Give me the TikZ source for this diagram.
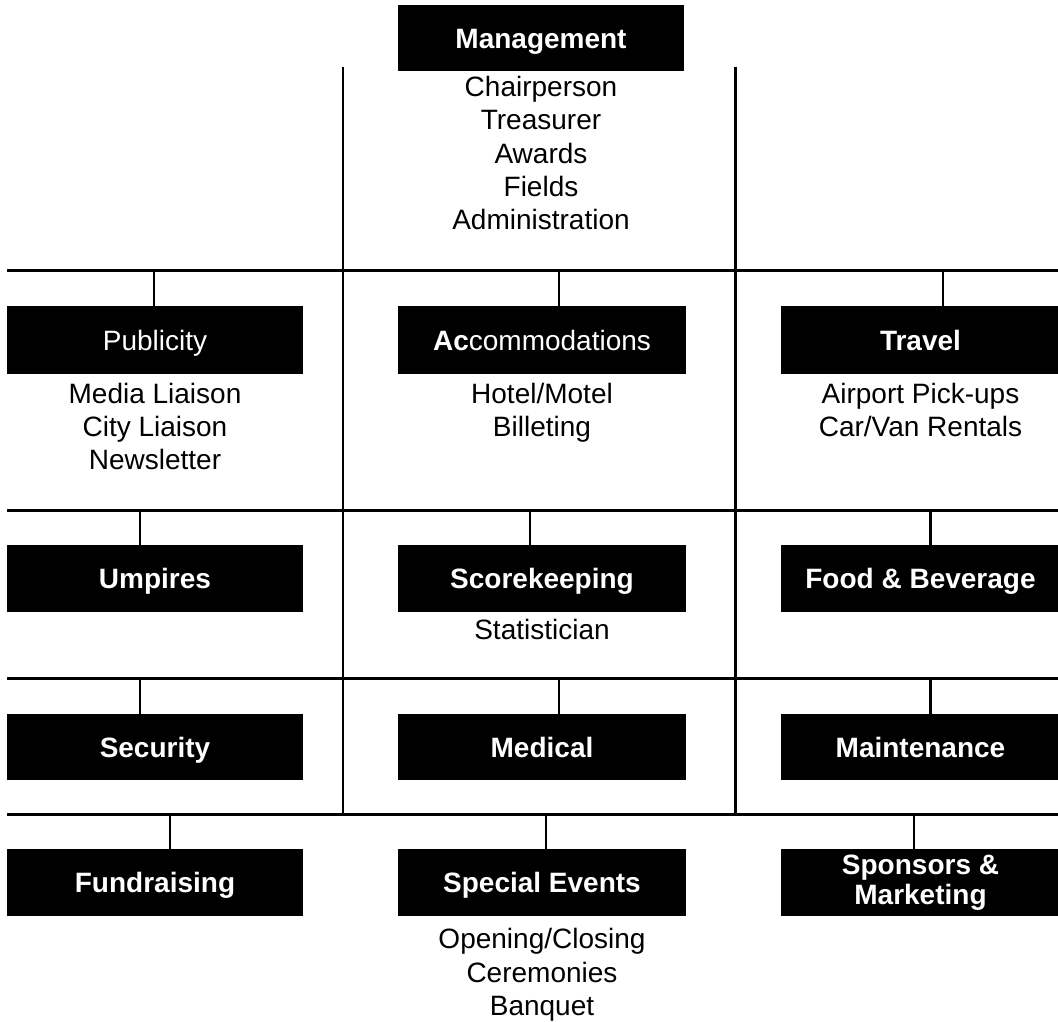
\documentclass[tikz,border=0pt]{standalone}
\usepackage{fontspec}
\setmainfont{Liberation Sans}
\usetikzlibrary{positioning}
\newcommand{\orgsize}{\fontsize{28}{33.3}\selectfont}
\tikzset{
  deptbox/.style={fill=black, text=white, inner sep=0pt, font=\orgsize\bfseries},
  dept/.style={deptbox, text height=20pt, text depth=0pt},
  duties/.style={align=center, inner sep=0pt, font=\orgsize},
  bus/.style={line width=3pt},
  divider/.style={line width=2.3pt},
  stub/.style={line width=2.3pt},
}
\begin{document}
\begin{tikzpicture}[x=1pt,y=-1pt]
\useasboundingbox (0,0) rectangle (1058,1021);
%
% cajas: centro, ancho, alto
\node[dept, minimum width=286pt, minimum height=66pt] (mgmt) at (541,38) {Management};
%
\node[dept, minimum width=296pt, minimum height=68pt, font=\orgsize] (pub) at (155,340) {Publicity};
\node[dept, minimum width=288pt, minimum height=68pt, font=\orgsize] (acc) at (542,340) {\textbf{Ac}commodations};
\node[dept, minimum width=279pt, minimum height=68pt] (trav) at (920.5,340) {Travel};
%
\node[dept, minimum width=296pt, minimum height=67pt] (ump) at (155,578.5) {Umpires};
\node[dept, minimum width=288pt, minimum height=67pt] (score) at (542,578.5) {Scorekeeping};
\node[dept, minimum width=279pt, minimum height=67pt] (food) at (920.5,578.5) {Food \& Beverage};
%
\node[dept, minimum width=296pt, minimum height=66pt] (sec) at (155,747) {Security};
\node[dept, minimum width=288pt, minimum height=66pt] (med) at (542,747) {Medical};
\node[dept, minimum width=279pt, minimum height=66pt] (maint) at (920.5,747) {Maintenance};
%
\node[dept, minimum width=296pt, minimum height=67pt] (fund) at (155,882.5) {Fundraising};
\node[dept, minimum width=288pt, minimum height=67pt] (spec) at (542,882.5) {Special Events};
\node[deptbox, minimum width=279pt, minimum height=67pt, align=center,
      font=\fontsize{28}{30}\selectfont\bfseries] (spons) at (920.5,882.5) {Sponsors \&\\Marketing};
%
% listas debajo de las cajas
\node[duties, below=5pt of mgmt] (mgmtsub) {Chairperson\\Treasurer\\Awards\\Fields\\Administration};
\node[duties, below=8.5pt of pub] (pubsub) {Media Liaison\\City Liaison\\Newsletter};
\node[duties, below=8.5pt of acc] (accsub) {Hotel/Motel\\Billeting};
\node[duties, below=9pt of trav] (travsub) {Airport Pick-ups\\Car/Van Rentals};
\node[duties, below=7pt of score] (scoresub) {Statistician};
\node[duties, below=12pt of spec] (specsub) {Opening/Closing\\Ceremonies\\Banquet};
%
% lineas verticales
\coordinate (divL1) at (343,67);
\coordinate (divL2) at (343,814);
\coordinate (divR1) at (735.5,67);
\coordinate (divR2) at (735.5,814);
\draw[divider] (divL1) -- (divL2);
\draw[divider] (divR1) -- (divR2);
%
% lineas horizontales
\coordinate (busA1) at (7,270);   \coordinate (busA2) at (1058,270);
\coordinate (busB1) at (7,510);   \coordinate (busB2) at (1058,510);
\coordinate (busC1) at (7,678);   \coordinate (busC2) at (1058,678);
\coordinate (busD1) at (7,814);   \coordinate (busD2) at (1058,814);
\draw[bus] (busA1) -- (busA2);
\draw[bus] (busB1) -- (busB2);
\draw[bus] (busC1) -- (busC2);
\draw[bus] (busD1) -- (busD2);
%
% conectores
\coordinate (tA1) at (154,270);
\coordinate (tA2) at (559,270);
\coordinate (tA3) at (943,270);
\draw[stub] (tA1) -- (tA1 |- pub.north);
\draw[stub] (tA2) -- (tA2 |- acc.north);
\draw[stub] (tA3) -- (tA3 |- trav.north);
%
\coordinate (tB1) at (140,510);
\coordinate (tB2) at (530,510);
\coordinate (tB3) at (930.5,510);
\draw[stub] (tB1) -- (tB1 |- ump.north);
\draw[stub] (tB2) -- (tB2 |- score.north);
\draw[stub] (tB3) -- (tB3 |- food.north);
%
\coordinate (tC1) at (140,678);
\coordinate (tC2) at (559,678);
\coordinate (tC3) at (930.5,678);
\draw[stub] (tC1) -- (tC1 |- sec.north);
\draw[stub] (tC2) -- (tC2 |- med.north);
\draw[stub] (tC3) -- (tC3 |- maint.north);
%
\coordinate (tD1) at (170,814);
\coordinate (tD2) at (546,814);
\coordinate (tD3) at (914,814);
\draw[stub] (tD1) -- (tD1 |- fund.north);
\draw[stub] (tD2) -- (tD2 |- spec.north);
\draw[stub] (tD3) -- (tD3 |- spons.north);
%
\end{tikzpicture}
\end{document}
